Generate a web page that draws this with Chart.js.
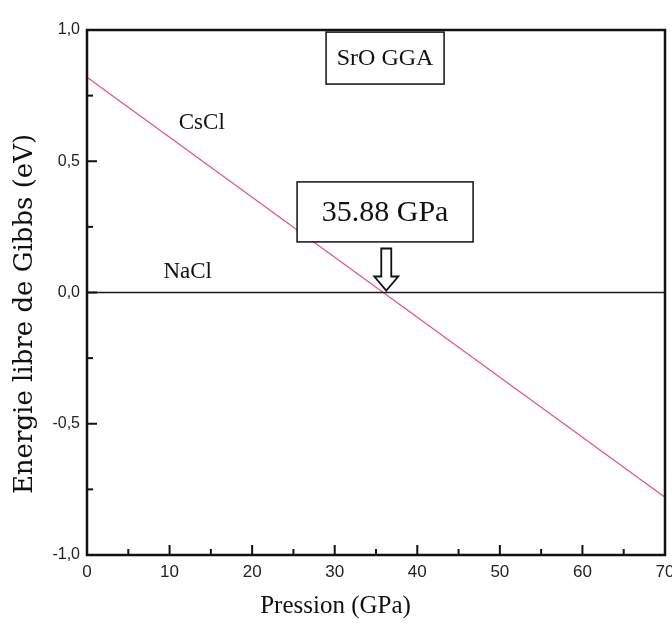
<!DOCTYPE html>
<html>
<head>
<meta charset="utf-8">
<script src="https://cdn.jsdelivr.net/npm/chart.js@4"></script>
<style>
    html, body { margin: 0; padding: 0; background: #fff; }
    #wrap { width: 672px; height: 632px; }
</style>
</head>
<body>
<div id="wrap"><canvas id="gibbsChart" width="672" height="632"></canvas></div>
<script>
// Données
const pression = [0, 70];
const energieCsCl = [0.82, -0.78];
const energieNaCl = [0, 0];
const xTicks = [0, 10, 20, 30, 40, 50, 60, 70];
const yTicks = [-1.0, -0.5, 0.0, 0.5, 1.0];
const transition = 35.88;

const serif = "'Liberation Serif', 'DejaVu Serif', serif";
const wideSerif = "'DejaVu Serif', 'Liberation Serif', serif";
const sans = "'Liberation Sans', Arial, sans-serif";

// Cadre, graduations vers l'intérieur et annotations
const decorPlugin = {
    id: "decor",
    afterDatasetsDraw(chart) {
        const ctx = chart.ctx;
        const a = chart.chartArea;
        const xs = chart.scales.x;
        const ys = chart.scales.y;
        ctx.save();

        // cadre
        ctx.strokeStyle = "#111";
        ctx.lineWidth = 2.5;
        ctx.strokeRect(a.left, a.top, a.right - a.left, a.bottom - a.top);

        // graduations
        ctx.lineWidth = 2;
        for (let p = 0; p <= 70; p += 5) {
            const px = xs.getPixelForValue(p);
            const len = p % 10 === 0 ? 10 : 6;
            ctx.beginPath();
            ctx.moveTo(px, a.bottom);
            ctx.lineTo(px, a.bottom - len);
            ctx.stroke();
        }
        for (let e = -1; e <= 1.001; e += 0.25) {
            const py = ys.getPixelForValue(e);
            const len = Math.abs(e * 2 - Math.round(e * 2)) < 0.01 ? 10 : 6;
            ctx.beginPath();
            ctx.moveTo(a.left, py);
            ctx.lineTo(a.left + len, py);
            ctx.stroke();
        }

        // étiquettes des courbes
        ctx.fillStyle = "#111";
        ctx.textAlign = "center";
        ctx.textBaseline = "middle";
        ctx.font = "23px " + serif;
        ctx.fillText("CsCl", xs.getPixelForValue(13.9), ys.getPixelForValue(0.646));
        ctx.fillText("NaCl", xs.getPixelForValue(12.2), ys.getPixelForValue(0.078));

        // boîte SrO GGA
        let cx = xs.getPixelForValue(36.1);
        let cy = ys.getPixelForValue(0.893);
        ctx.lineWidth = 1.5;
        ctx.fillStyle = "#fff";
        ctx.fillRect(cx - 59, cy - 26, 118, 52);
        ctx.strokeRect(cx - 59, cy - 26, 118, 52);
        ctx.fillStyle = "#111";
        ctx.font = "24px " + serif;
        ctx.fillText("SrO GGA", cx, cy + 1);

        // boîte de transition
        cx = xs.getPixelForValue(36.1);
        cy = ys.getPixelForValue(0.307);
        ctx.fillStyle = "#fff";
        ctx.fillRect(cx - 88, cy - 30, 176, 60);
        ctx.strokeRect(cx - 88, cy - 30, 176, 60);
        ctx.fillStyle = "#111";
        ctx.font = "30px " + serif;
        ctx.fillText(transition.toFixed(2) + " GPa", cx, cy + 1);

        // flèche creuse vers le point de transition
        const tx = xs.getPixelForValue(transition) + 3;
        const ty = ys.getPixelForValue(0) - 2;
        ctx.lineWidth = 1.8;
        ctx.beginPath();
        ctx.moveTo(tx - 5, ty - 42);
        ctx.lineTo(tx + 5, ty - 42);
        ctx.lineTo(tx + 5, ty - 14);
        ctx.lineTo(tx + 12, ty - 14);
        ctx.lineTo(tx, ty);
        ctx.lineTo(tx - 12, ty - 14);
        ctx.lineTo(tx - 5, ty - 14);
        ctx.closePath();
        ctx.fillStyle = "#fff";
        ctx.fill();
        ctx.stroke();

        // titres des axes
        ctx.fillStyle = "#111";
        ctx.font = "25px " + serif;
        ctx.fillText("Pression (GPa)", xs.getPixelForValue(30.1), 606);

        ctx.translate(25, 314);
        ctx.rotate(-Math.PI / 2);
        ctx.font = "26px " + wideSerif;
        ctx.fillText("Energie libre de Gibbs (eV)", 0, 0);

        ctx.restore();
    }
};

function toPoints(xv, yv) {
    return xv.map((x, i) => ({ x: x, y: yv[i] }));
}

document.addEventListener("DOMContentLoaded", function () {
    const ctx = document.getElementById("gibbsChart").getContext("2d");

    new Chart(ctx, {
        type: "line",
        data: {
            datasets: [
                {
                    label: "NaCl",
                    data: toPoints(pression, energieNaCl),
                    borderColor: "#1a1a1a",
                    borderWidth: 1.3,
                    pointRadius: 0,
                    tension: 0
                },
                {
                    label: "CsCl",
                    data: toPoints(pression, energieCsCl),
                    borderColor: "#e8508a",
                    borderWidth: 1.3,
                    pointRadius: 0,
                    tension: 0
                }
            ]
        },
        options: {
            responsive: false,
            animation: false,
            layout: { padding: { top: 30, right: 7, left: 0, bottom: 0 } },
            plugins: {
                legend: { display: false },
                tooltip: { enabled: false }
            },
            scales: {
                x: {
                    type: "linear",
                    min: 0,
                    max: 70,
                    afterFit: s => { s.height = 77; s.paddingRight = 0; s.paddingLeft = 0; },
                    afterBuildTicks: s => { s.ticks = xTicks.map(v => ({ value: v })); },
                    grid: { display: false, drawTicks: false },
                    border: { display: false },
                    ticks: {
                        padding: 7,
                        color: "#222",
                        font: { family: sans, size: 17 }
                    }
                },
                y: {
                    type: "linear",
                    min: -1,
                    max: 1,
                    afterFit: s => { s.width = 87; },
                    afterBuildTicks: s => { s.ticks = yTicks.map(v => ({ value: v })); },
                    grid: { display: false, drawTicks: false },
                    border: { display: false },
                    ticks: {
                        padding: 7,
                        color: "#222",
                        font: { family: sans, size: 16 },
                        callback: v => v.toFixed(1).replace(".", ",")
                    }
                }
            }
        },
        plugins: [decorPlugin]
    });
});
</script>
</body>
</html>
